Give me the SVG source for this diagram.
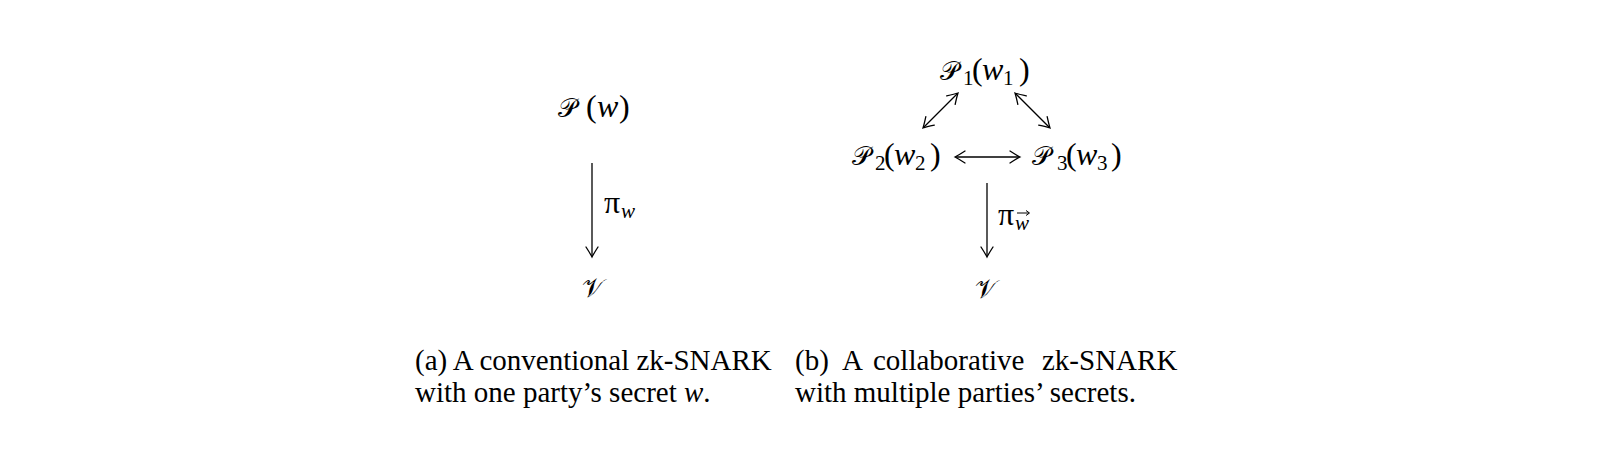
<svg xmlns="http://www.w3.org/2000/svg" width="1600" height="454" viewBox="0 0 1600 454">
<style>
text{font-family:"Liberation Serif","DejaVu Serif",serif;fill:#000}
.m{font-size:32px}
.cal{font-family:"DejaVu Serif","DejaVu Sans","Noto Sans",serif;font-size:26px}
.it{font-style:italic}
.sub{font-size:21px}
.cap{font-size:29px}
.ln{stroke:#000;stroke-width:1.3;fill:none}
.ah{stroke:#000;stroke-width:1.3;fill:none;stroke-linecap:round}
</style>
<defs>
<path id="hd" d="M-6,-10 Q-1.5,-3 0,0 Q1.5,-3 6,-10" class="ah"/>
</defs>
<rect width="1600" height="454" fill="#fff"/>
<g id="nodeP">
<text class="m" y="117"><tspan class="cal" x="558">𝒫</tspan><tspan x="586">(</tspan><tspan class="it" x="597">w</tspan><tspan x="619">)</tspan></text>
</g>
<g id="nodeV1">
<text class="m" y="297"><tspan class="cal" x="582">𝒱</tspan></text>
</g>
<g id="nodeP1">
<text class="m" y="80"><tspan class="cal" x="940">𝒫</tspan><tspan class="sub" x="963" y="85">1</tspan><tspan x="972" y="80">(</tspan><tspan class="it" x="982">w</tspan><tspan class="sub" x="1003" y="85">1</tspan><tspan x="1019" y="80">)</tspan></text>
</g>
<g id="nodeP2">
<text class="m" y="165"><tspan class="cal" x="852">𝒫</tspan><tspan class="sub" x="875" y="170">2</tspan><tspan x="884" y="165">(</tspan><tspan class="it" x="894">w</tspan><tspan class="sub" x="915" y="170">2</tspan><tspan x="930" y="165">)</tspan></text>
</g>
<g id="nodeP3">
<text class="m" y="165"><tspan class="cal" x="1032">𝒫</tspan><tspan class="sub" x="1057" y="170">3</tspan><tspan x="1066" y="165">(</tspan><tspan class="it" x="1076">w</tspan><tspan class="sub" x="1097" y="170">3</tspan><tspan x="1111" y="165">)</tspan></text>
</g>
<g id="nodeV2">
<text class="m" y="298"><tspan class="cal" x="975">𝒱</tspan></text>
</g>
<g id="connectors">
<line class="ln" x1="592" y1="163" x2="592" y2="256"/>
<use href="#hd" transform="translate(592,257)"/>
<text class="m" y="213"><tspan x="604">π</tspan><tspan class="sub it" x="621" y="218">w</tspan></text>
<line class="ln" x1="987" y1="183" x2="987" y2="256"/>
<use href="#hd" transform="translate(987,257)"/>
<text class="m" y="225"><tspan x="998">π</tspan><tspan class="sub it" x="1015" y="230">w</tspan></text>
<path d="M1017,213 H1029 M1026,210.5 L1029.5,213 L1026,215.5" stroke="#000" stroke-width="1" fill="none"/>
<line class="ln" x1="957" y1="94" x2="924" y2="127"/>
<use href="#hd" transform="translate(958,93) rotate(-135)"/>
<use href="#hd" transform="translate(923,128) rotate(45)"/>
<line class="ln" x1="1016" y1="94" x2="1049" y2="127"/>
<use href="#hd" transform="translate(1015,93) rotate(135)"/>
<use href="#hd" transform="translate(1050,128) rotate(-45)"/>
<line class="ln" x1="956" y1="157" x2="1019" y2="157"/>
<use href="#hd" transform="translate(955,157) rotate(90)"/>
<use href="#hd" transform="translate(1020,157) rotate(-90)"/>
</g>
<g id="captions">
<text class="cap" x="415" y="370">(a) A conventional zk-SNARK</text>
<text class="cap" x="415" y="402">with one party’s secret <tspan class="it">w</tspan>.</text>
<text class="cap" y="370"><tspan x="795">(b)</tspan><tspan x="842">A</tspan><tspan x="873">collaborative</tspan><tspan x="1042">zk-SNARK</tspan></text>
<text class="cap" x="795" y="402">with multiple parties’ secrets.</text>
</g>
</svg>
